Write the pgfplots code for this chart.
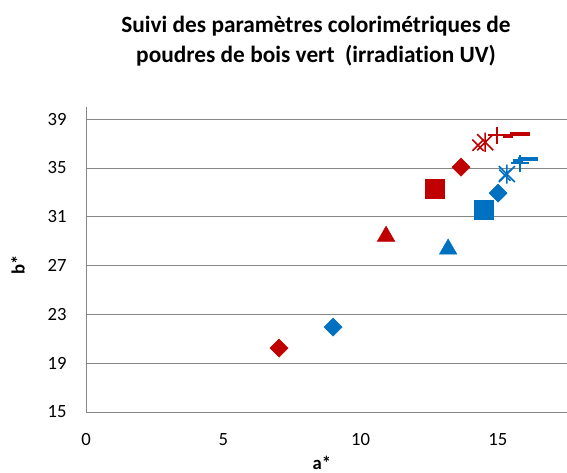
\documentclass[border=0pt]{standalone}
\usepackage{fontspec}
\setmainfont{Carlito}[Ligatures=NoCommon]
\usepackage{pgfplots}
\pgfplotsset{compat=1.18}
\definecolor{xred}{RGB}{192,0,0}
\definecolor{xblue}{RGB}{0,112,192}
\definecolor{gridgray}{RGB}{134,134,134}
\pgfdeclareplotmark{xstar}{%
  \pgfpathmoveto{\pgfqpoint{-\pgfplotmarksize}{-\pgfplotmarksize}}%
  \pgfpathlineto{\pgfqpoint{\pgfplotmarksize}{\pgfplotmarksize}}%
  \pgfpathmoveto{\pgfqpoint{-\pgfplotmarksize}{\pgfplotmarksize}}%
  \pgfpathlineto{\pgfqpoint{\pgfplotmarksize}{-\pgfplotmarksize}}%
  \pgfpathmoveto{\pgfqpoint{0pt}{-1.2\pgfplotmarksize}}%
  \pgfpathlineto{\pgfqpoint{0pt}{1.2\pgfplotmarksize}}%
  \pgfusepathqstroke}
\pgfdeclareplotmark{sdash}{%
  \pgfpathrectangle{\pgfqpoint{-\pgfplotmarksize}{-1.5pt}}{\pgfqpoint{2\pgfplotmarksize}{3pt}}%
  \pgfusepathqfill}
\begin{document}
\begin{tikzpicture}
\path[use as bounding box] (-64.5pt,-45pt) rectangle (360.75pt,309pt);
\begin{axis}[
  at={(0,0)}, anchor=south west,
  scale only axis, width=360.75pt, height=228.75pt,
  xmin=0, xmax=17.52, ymin=15, ymax=40,
  xtick={0,5,10,15}, ytick={15,19,23,27,31,35,39},
  axis x line*=bottom, axis y line*=left,
  axis line style={gridgray, line width=0.75pt, -},
  ymajorgrids, grid style={gridgray, line width=0.75pt},
  major tick length=0pt,
  tick label style={font=\fontsize{14}{16}\selectfont},
  /pgf/number format/assume math mode=true,
  yticklabel style={xshift=-11pt},
  xticklabel style={yshift=-12.5pt},
  clip=false,
]
% red
\addplot[only marks, mark=square*, mark size=4.8pt, mark options={rotate=45, fill=xred, draw=xred}] coordinates {(7.03,20.24) (13.66,35.07)};
\addplot[only marks, mark=square*, mark size=7.1pt, mark options={fill=xred, draw=xred}] coordinates {(12.71,33.26)};
\addplot[only marks, mark=triangle*, mark size=7.6pt, mark options={fill=xred, draw=xred}] coordinates {(10.93,29.4)};
\addplot[only marks, mark=x, mark size=6pt, mark options={draw=xred, line width=1.2pt}] coordinates {(14.28,36.87)};
\addplot[only marks, mark=xstar, mark size=6pt, mark options={draw=xred, line width=1.2pt}] coordinates {(14.54,37.11)};
\addplot[only marks, mark=+, mark size=6.5pt, mark options={draw=xred, line width=1.2pt}] coordinates {(14.97,37.69)};
\addplot[only marks, mark=sdash, mark size=3.8pt, mark options={fill=xred}] coordinates {(15.37,37.6)};
\addplot[only marks, mark=sdash, mark size=7.2pt, mark options={fill=xred}] coordinates {(15.81,37.77)};
% blue
\addplot[only marks, mark=square*, mark size=4.8pt, mark options={rotate=45, fill=xblue, draw=xblue}] coordinates {(9.0,21.96) (15.01,32.94)};
\addplot[only marks, mark=square*, mark size=7.1pt, mark options={fill=xblue, draw=xblue}] coordinates {(14.5,31.54)};
\addplot[only marks, mark=triangle*, mark size=7.6pt, mark options={fill=xblue, draw=xblue}] coordinates {(13.19,28.35)};
\addplot[only marks, mark=x, mark size=6pt, mark options={draw=xblue, line width=1.2pt}] coordinates {(15.26,34.41)};
\addplot[only marks, mark=xstar, mark size=6pt, mark options={draw=xblue, line width=1.2pt}] coordinates {(15.33,34.5)};
\addplot[only marks, mark=+, mark size=6.5pt, mark options={draw=xblue, line width=1.2pt}] coordinates {(15.81,35.39)};
\addplot[only marks, mark=sdash, mark size=3.8pt, mark options={fill=xblue}] coordinates {(15.74,35.56)};
\addplot[only marks, mark=sdash, mark size=7.2pt, mark options={fill=xblue}] coordinates {(16.1,35.72)};
\end{axis}
\node[font=\bfseries\fontsize{14}{16}\selectfont, rotate=90] at (-51pt,110pt) {b*};
\node[font=\bfseries\fontsize{14}{16}\selectfont] at (177pt,-38pt) {a*};
\node[font=\bfseries\fontsize{17.5}{22.5}\selectfont, align=center] at (172.5pt,278pt) {Suivi des paramètres colorimétriques de\\poudres de bois vert\ \ (irradiation UV)};
\end{tikzpicture}
\end{document}
